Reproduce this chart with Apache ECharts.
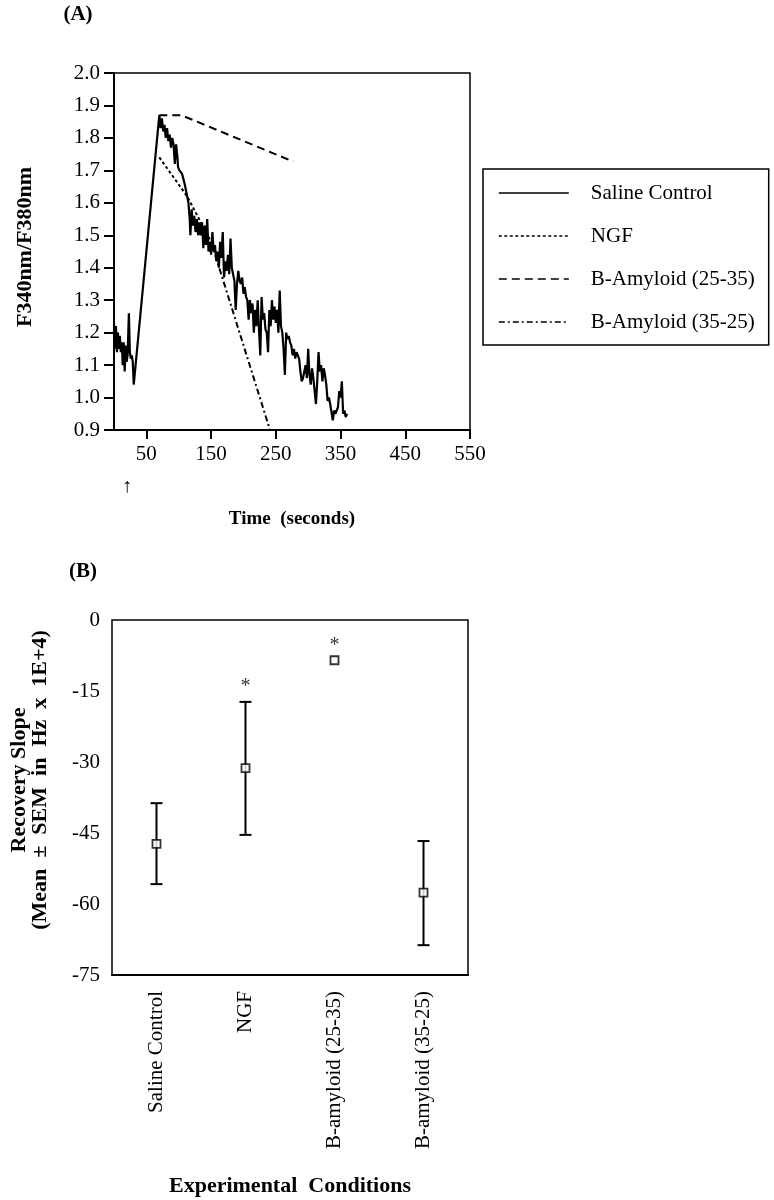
<!DOCTYPE html>
<html><head><meta charset="utf-8">
<script src="https://cdn.jsdelivr.net/npm/echarts@6/dist/echarts.min.js"></script>
<style>html,body{margin:0;padding:0;background:#fff}#c{width:774px;height:1200px}</style>
</head><body><div id="c"></div>
<script>
// ---------- Panel A data: time (s) vs F340nm/F380nm ----------
const salineControl = [
  [0,1.23],[1.5,1.15],[3,1.22],[4.5,1.14],[6,1.20],[7.5,1.15],[9,1.19],[10.5,1.14],[12,1.17],[13.5,1.10],
  [15,1.17],[16.5,1.08],[18,1.16],[19.5,1.11],[21,1.13],[23,1.26],[24.5,1.14],[26,1.12],[27.5,1.13],[29,1.11],
  [30.5,1.04],
  [70,1.87],[72,1.83],[74,1.86],[76,1.82],[78,1.84],[80,1.80],[82,1.83],[84,1.79],[86,1.81],[88,1.77],
  [90,1.80],[92,1.78],[94,1.72],[96,1.78],[98,1.74],[99,1.71],[101,1.70],[103,1.70],[105,1.69],[107,1.69],
  [109,1.66],[111,1.66],[113,1.62],[115,1.60],[117,1.55],[118,1.50],[120,1.58],[122,1.53],[124,1.56],[126,1.51],
  [128,1.55],[130,1.50],[132,1.54],[134,1.50],[136,1.54],[138,1.46],[140,1.53],[142,1.47],[144,1.55],[146,1.45],
  [148,1.48],[150,1.44],[152,1.51],[154,1.45],[156,1.47],[158,1.42],[160,1.45],[162,1.40],[164,1.48],[166,1.43],
  [168,1.51],[170,1.37],[172,1.42],[174,1.39],[176,1.44],[178,1.38],[180,1.49],[182,1.40],[184,1.38],[186,1.36],
  [188,1.27],[190,1.35],[192,1.39],[194,1.36],[196,1.35],[198,1.37],[200,1.32],[202,1.34],[204,1.31],[206,1.30],
  [208,1.24],[210,1.30],[212,1.26],[214,1.29],[216,1.20],[218,1.27],[220,1.22],[222,1.30],[224,1.21],[226,1.13],
  [228,1.31],[230,1.24],[232,1.26],[234,1.21],[236,1.20],[238,1.14],[240,1.27],[242,1.22],[244,1.30],[246,1.24],
  [248,1.28],[250,1.23],[252,1.27],[254,1.20],[256,1.33],[258,1.22],[260,1.20],[262,1.15],[264,1.07],[266,1.20],
  [268,1.18],[270,1.19],[272,1.17],[274,1.16],[276,1.13],[278,1.15],[280,1.12],[282,1.14],[284,1.13],[286,1.12],
  [288,1.08],[290,1.05],[292,1.06],[294,1.08],[296,1.10],[298,1.06],[300,1.15],[302,1.07],[304,1.04],[306,1.09],
  [308,1.06],[310,1.02],[312,0.98],[314,1.05],[316,1.14],[318,1.08],[320,1.10],[322,1.05],[324,1.09],[326,1.07],
  [328,1.04],[330,0.99],[332,1.00],[334,0.98],[336,0.98],[338,0.93],[340,0.96],[342,0.95],[344,0.96],[346,0.97],
  [348,1.02],[350,1.00],[352,1.05],[354,0.95],[356,0.96],[358,0.94],[360,0.95]
];
const ngf = [[70,1.74],[113,1.62],[150,1.48]];
const amyloid2535 = [[70,1.87],[104,1.87],[277,1.727]];
const amyloid3525 = [[150,1.48],[241,0.9]];
const xTickValues = [50,150,250,350,450,550];

// ---------- Panel B data ----------
const categories = ['Saline Control','NGF','B-amyloid (25-35)','B-amyloid (35-25)'];
const slopeMeans = [-47.3,-31.3,-8.5,-57.6];
const semUpper = [-38.7,-17.3,null,-46.7];
const semLower = [-55.8,-45.4,null,-68.7];
const starMarks = [null,-14.0,-5.4,null];

const FONT = '"Liberation Serif","Times New Roman",serif';
const txt = {color:'#000', fontFamily:FONT, fontSize:21};
const axLine = {onZero:false, lineStyle:{color:'#000', width:2}};

const errData = [];
categories.forEach((c,i)=>{ if(semUpper[i]!=null) errData.push([i, semLower[i], semUpper[i]]); });

const chart = echarts.init(document.getElementById('c'), null, {renderer:'canvas'});
chart.setOption({
  animation:false,
  backgroundColor:'#fff',
  grid:[
    {left:114, top:73, width:356, height:357, show:true, borderColor:'#000', borderWidth:1.5},
    {left:112, top:620, width:356, height:355, show:true, borderColor:'#000', borderWidth:1.5}
  ],
  legend:{
    data:['Saline Control','NGF','B-Amyloid (25-35)','B-Amyloid (35-25)'],
    orient:'vertical', left:483, top:169,
    itemWidth:70, itemHeight:14, itemGap:19,
    padding:[12,14,11,15],
    borderColor:'#000', borderWidth:1.5,
    itemStyle:{opacity:0, color:'rgba(0,0,0,0)', borderWidth:0},
    lineStyle:{width:1.6},
    textStyle:Object.assign({lineHeight:24, padding:[0,0,0,17]}, txt),
    selectedMode:false
  },
  xAxis:[
    {type:'value', gridIndex:0, min:0, max:550,
     axisLine:axLine,
     axisTick:{customValues:xTickValues, length:9, lineStyle:{color:'#000', width:2}},
     axisLabel:Object.assign({customValues:xTickValues, margin:14}, txt),
     splitLine:{show:false},
     name:'Time  (seconds)', nameLocation:'middle', nameGap:80,
     nameTextStyle:{color:'#000', fontFamily:FONT, fontSize:19, fontWeight:'bold'}},
    {type:'category', gridIndex:1, data:categories, boundaryGap:true,
     axisLine:axLine,
     axisTick:{alignWithLabel:true, length:8, lineStyle:{color:'#000', width:2}},
     axisLabel:Object.assign({rotate:90, margin:16, interval:0}, txt),
     name:'Experimental  Conditions', nameLocation:'middle', nameGap:200,
     nameTextStyle:{color:'#000', fontFamily:FONT, fontSize:22, fontWeight:'bold'}}
  ],
  yAxis:[
    {type:'value', gridIndex:0, min:0.9, max:2.0, interval:0.1,
     axisLine:axLine,
     axisTick:{length:10, lineStyle:{color:'#000', width:2}},
     axisLabel:Object.assign({margin:14, formatter:v=>v.toFixed(1)}, txt),
     splitLine:{show:false}},
    {type:'value', gridIndex:1, min:-75, max:0, interval:15,
     axisLine:axLine,
     axisTick:{length:8, lineStyle:{color:'#000', width:2}},
     axisLabel:Object.assign({margin:12}, txt),
     splitLine:{show:false}}
  ],
  graphic:[
    {type:'text', x:78, y:15, style:{text:'(A)', font:'bold 21px '+FONT, fill:'#000', align:'center', verticalAlign:'middle'}},
    {type:'text', x:83, y:572, style:{text:'(B)', font:'bold 21px '+FONT, fill:'#000', align:'center', verticalAlign:'middle'}},
    {type:'text', x:127, y:487, style:{text:'↑', font:'20px '+FONT, fill:'#000', align:'center', verticalAlign:'middle'}},
    {type:'text', x:25, y:247, rotation:Math.PI/2, style:{text:'F340nm/F380nm', font:'bold 22px '+FONT, fill:'#000', align:'center', verticalAlign:'middle'}},
    {type:'text', x:30, y:780, rotation:Math.PI/2, style:{text:'Recovery Slope\n(Mean  ±  SEM  in  Hz  x  1E+4)', font:'bold 22px '+FONT, lineHeight:21, fill:'#000', align:'center', verticalAlign:'middle'}}
  ],
  series:[
    {name:'Saline Control', type:'line', xAxisIndex:0, yAxisIndex:0, data:salineControl, symbol:'none', color:'#000',
     lineStyle:{color:'#000', width:2.2, type:'solid'}, z:3},
    {name:'NGF', type:'line', xAxisIndex:0, yAxisIndex:0, data:ngf, symbol:'none', color:'#000',
     lineStyle:{color:'#000', width:2, type:[3,2.5]}},
    {name:'B-Amyloid (25-35)', type:'line', xAxisIndex:0, yAxisIndex:0, data:amyloid2535, symbol:'none', color:'#000',
     lineStyle:{color:'#000', width:2, type:[8,5]}},
    {name:'B-Amyloid (35-25)', type:'line', xAxisIndex:0, yAxisIndex:0, data:amyloid3525, symbol:'none', color:'#000',
     lineStyle:{color:'#000', width:2, type:[6,3,2,3]}},
    {type:'custom', xAxisIndex:1, yAxisIndex:1, data:errData, z:2,
     renderItem:function(params, api){
       const i = api.value(0);
       const lo = api.coord([i, api.value(1)]);
       const hi = api.coord([i, api.value(2)]);
       const w = 6;
       const st = {stroke:'#000', lineWidth:2};
       return {type:'group', children:[
         {type:'line', shape:{x1:hi[0], y1:hi[1], x2:lo[0], y2:lo[1]}, style:st},
         {type:'line', shape:{x1:hi[0]-w, y1:hi[1], x2:hi[0]+w, y2:hi[1]}, style:st},
         {type:'line', shape:{x1:lo[0]-w, y1:lo[1], x2:lo[0]+w, y2:lo[1]}, style:st}
       ]};
     }},
    {type:'scatter', xAxisIndex:1, yAxisIndex:1, data:slopeMeans, symbol:'rect', symbolSize:8, z:5,
     itemStyle:{color:'#fff', borderColor:'#000', borderWidth:1.8}},
    {type:'scatter', xAxisIndex:1, yAxisIndex:1, data:starMarks, symbol:'circle', symbolSize:1, z:5,
     itemStyle:{color:'rgba(0,0,0,0)'},
     label:{show:true, position:'inside', formatter:'*', color:'#000', fontFamily:FONT, fontSize:20}}
  ]
});
</script>
</body></html>
